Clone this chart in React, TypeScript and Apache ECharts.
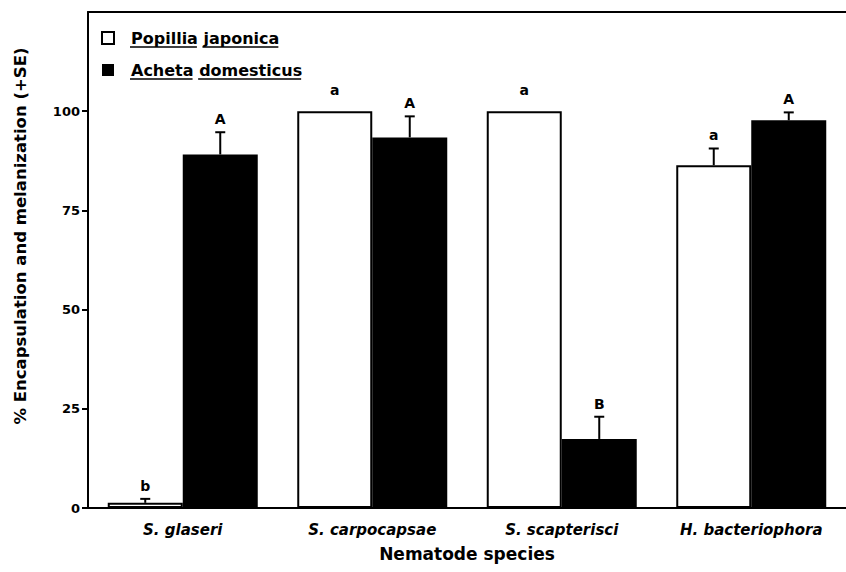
import React, { useEffect, useRef } from "react";
import * as echarts from "echarts";

const categories = ["S. glaseri", "S. carpocapsae", "S. scapterisci", "H. bacteriophora"];
const popillia = [1.3, 100, 100, 86.4];
const popilliaErrTop = [2.3, 100, 100, 90.6];
const popilliaLetters = ["b", "a", "a", "a"];
const acheta = [89.1, 93.4, 17.4, 97.7];
const achetaErrTop = [94.7, 98.7, 23.0, 99.7];
const achetaLetters = ["A", "A", "B", "A"];
const yTicks = [0, 25, 50, 75, 100];

const FONT = '"DejaVu Sans", Verdana, sans-serif';
const BAR_W = 75;

function measure(text: string, font: string): number {
  const c = document.createElement("canvas").getContext("2d");
  if (!c) return text.length * 9;
  c.font = font;
  return c.measureText(text).width;
}

function errSeries(name: string, vals: number[], tops: number[], letters: string[], side: number) {
  return {
    type: "custom",
    name,
    z: 5,
    data: vals.map((v, i) => [i, v, tops[i]]),
    renderItem: (params: any, api: any) => {
      const ci = api.value(0);
      const v = api.value(1);
      const t = api.value(2);
      const base = api.coord([ci, v]);
      const tp = api.coord([ci, t]);
      const x = base[0] + (side * BAR_W) / 2;
      const children: any[] = [];
      const hasErr = t > v;
      if (hasErr) {
        children.push({
          type: "line",
          shape: { x1: x, y1: base[1], x2: x, y2: tp[1] },
          style: { stroke: "#000", lineWidth: 2 },
        });
        children.push({
          type: "line",
          shape: { x1: x - 5, y1: tp[1], x2: x + 5, y2: tp[1] },
          style: { stroke: "#000", lineWidth: 2 },
        });
      }
      children.push({
        type: "text",
        style: {
          text: letters[params.dataIndex],
          x,
          y: tp[1] - (hasErr ? 6 : 14),
          align: "center",
          verticalAlign: "bottom",
          font: `bold 14px ${FONT}`,
          fill: "#000",
        },
      });
      return { type: "group", children };
    },
  };
}

export default function App() {
  const ref = useRef<HTMLDivElement>(null);
  useEffect(() => {
    if (!ref.current) return;
    const chart = echarts.init(ref.current, null, { renderer: "svg" });
    const legFont = `bold 16px ${FONT}`;
    const textX = 130;
    const underline = (words: string[], y: number) => {
      const out: any[] = [];
      let x = textX;
      const sp = measure(" ", legFont);
      words.forEach((w) => {
        const wd = measure(w, legFont);
        out.push({
          type: "line",
          shape: { x1: x, y1: y, x2: x + wd, y2: y },
          style: { stroke: "#000", lineWidth: 1.5 },
        });
        x += wd + sp;
      });
      return out;
    };
    chart.setOption({
      animation: false,
      backgroundColor: "#fff",
      grid: { left: 88, right: 0, top: 12, bottom: 64 },
      legend: {
        data: ["Popillia japonica", "Acheta domesticus"],
        orient: "vertical",
        left: 96,
        top: 24,
        itemWidth: 12,
        itemHeight: 12,
        itemGap: 14,
        icon: "rect",
        selectedMode: false,
        textStyle: {
          fontFamily: FONT,
          fontWeight: "bold",
          fontSize: 16,
          color: "#000",
          lineHeight: 18,
          padding: [0, 0, 0, 12],
        },
      },
      graphic: [
        {
          type: "text",
          x: 20,
          y: 236,
          rotation: Math.PI / 2,
          style: {
            text: "% Encapsulation and melanization (+SE)",
            font: `bold 16.5px ${FONT}`,
            fill: "#000",
            align: "center",
            verticalAlign: "middle",
          },
        },
        ...underline(["Popillia", "japonica"], 47),
        ...underline(["Acheta", "domesticus"], 79),
      ],
      xAxis: [
        {
          type: "category",
          data: categories,
          position: "bottom",
          axisLine: { lineStyle: { color: "#000", width: 2 } },
          axisTick: { show: false },
          axisLabel: {
            color: "#000",
            fontFamily: FONT,
            fontWeight: "bold",
            fontStyle: "italic",
            fontSize: 15,
            margin: 14,
          },
          name: "Nematode species",
          nameLocation: "middle",
          nameGap: 37,
          nameTextStyle: { color: "#000", fontFamily: FONT, fontWeight: "bold", fontSize: 17 },
        },
        {
          type: "category",
          data: categories,
          position: "top",
          axisLine: { lineStyle: { color: "#000", width: 2 } },
          axisTick: { show: false },
          axisLabel: { show: false },
        },
      ],
      yAxis: {
        type: "value",
        min: 0,
        max: 125,
        interval: 25,
        splitLine: { show: false },
        axisLine: { show: true, lineStyle: { color: "#000", width: 2 } },
        axisTick: { show: true, length: 6, lineStyle: { color: "#000", width: 2 }, customValues: yTicks },
        axisLabel: {
          color: "#000",
          fontFamily: FONT,
          fontWeight: "bold",
          fontSize: 13,
          margin: 8,
          customValues: yTicks,
        },
      },
      series: [
        {
          type: "bar",
          name: "Popillia japonica",
          data: popillia,
          barWidth: BAR_W,
          barGap: "0%",
          itemStyle: { color: "#fff", borderColor: "#000", borderWidth: 2 },
        },
        {
          type: "bar",
          name: "Acheta domesticus",
          data: acheta,
          barWidth: BAR_W,
          barGap: "0%",
          itemStyle: { color: "#000", borderColor: "#000", borderWidth: 0 },
        },
        errSeries("Popillia SE", popillia, popilliaErrTop, popilliaLetters, -1),
        errSeries("Acheta SE", acheta, achetaErrTop, achetaLetters, 1),
      ],
    });
    return () => chart.dispose();
  }, []);
  return <div ref={ref} style={{ position: "fixed", left: 0, top: 0, width: 846, height: 572 }} />;
}
